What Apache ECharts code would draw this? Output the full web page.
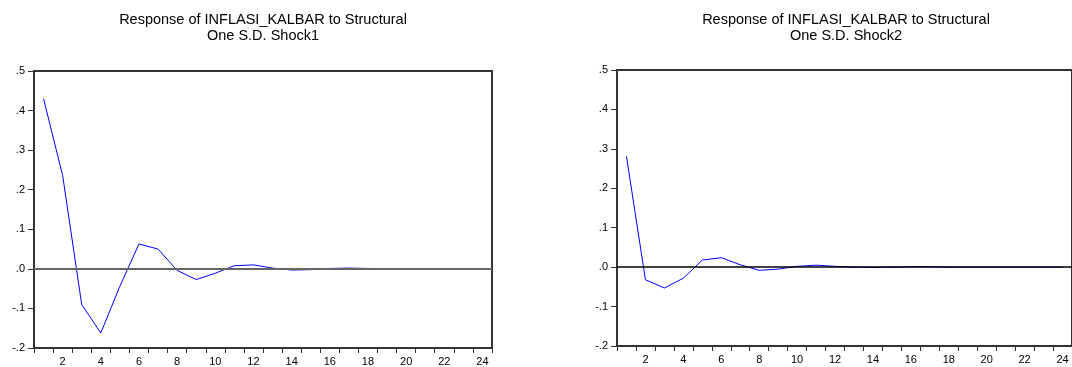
<!DOCTYPE html>
<html>
<head>
<meta charset="utf-8">
<script src="https://cdn.jsdelivr.net/npm/echarts@6/dist/echarts.min.js"></script>
<style>
  html, body { margin: 0; padding: 0; background: #fff; }
  #chart { width: 1072px; height: 367px; }
</style>
</head>
<body>
<div id="chart"></div>
<script>
// periods 1..24
var periods = [];
for (var p = 1; p <= 24; p++) periods.push(String(p));

var titleLine1 = 'Response of INFLASI_KALBAR to Structural';
var titleShock1 = 'One S.D. Shock1';
var titleShock2 = 'One S.D. Shock2';

var shock1 = [0.430, 0.236, -0.090, -0.162, -0.044, 0.063, 0.050, -0.004, -0.027, -0.011,
              0.008, 0.010, 0.002, -0.003, -0.002, 0.001, 0.002, 0.001, 0.000, 0.000,
              0.000, 0.000, 0.000, 0.000];
var shock2 = [0.281, -0.032, -0.053, -0.028, 0.018, 0.024, 0.006, -0.008, -0.005, 0.002,
              0.005, 0.002, 0.000, -0.001, 0.000, 0.001, 0.001, 0.000, 0.000, 0.000,
              0.000, 0.000, 0.000, 0.000];

var font = 'Liberation Sans, Arial, sans-serif';

function fmt(v) {
  var s = Math.abs(v).toFixed(1).replace(/^0/, '');
  return (v < -1e-9 ? '-' : '') + s;
}

function xAxisFor(i) {
  return {
    type: 'category', gridIndex: i, data: periods, boundaryGap: true,
    axisLine: { show: true, onZero: false, lineStyle: { color: '#333', width: 2 } },
    axisTick: { show: true, interval: 0, length: 5, lineStyle: { color: '#333' } },
    axisLabel: {
      interval: function (idx) { return idx % 2 === 1; },
      margin: 8, color: '#000', fontSize: 11, fontFamily: font
    },
    splitLine: { show: false }
  };
}
function yAxisFor(i) {
  return {
    type: 'value', gridIndex: i, min: -0.2, max: 0.5, interval: 0.1,
    axisLine: { show: true, onZero: false, lineStyle: { color: '#333', width: 2 } },
    axisTick: { show: true, length: 6, lineStyle: { color: '#333' } },
    axisLabel: { margin: 9, color: '#000', fontSize: 11, fontFamily: font, formatter: fmt },
    splitLine: { show: false }
  };
}
function lineFor(i, data, zeroColor, zeroWidth) {
  return {
    type: 'line', xAxisIndex: i, yAxisIndex: i, data: data,
    symbol: 'none', animation: false,
    lineStyle: { color: '#0000ff', width: 1 },
    markLine: {
      silent: true, symbol: 'none', label: { show: false },
      lineStyle: { color: zeroColor, width: zeroWidth, type: 'solid' },
      data: [{ yAxis: 0 }]
    }
  };
}

var chart = echarts.init(document.getElementById('chart'));
chart.setOption({
  animation: false,
  backgroundColor: '#fff',
  grid: [
    { left: 34, top: 71, width: 458, height: 277, show: true, borderColor: '#333', borderWidth: 2, backgroundColor: 'transparent' },
    { left: 617, top: 70, width: 458, height: 276, show: true, borderColor: '#333', borderWidth: 2, backgroundColor: 'transparent' }
  ],
  xAxis: [xAxisFor(0), xAxisFor(1)],
  yAxis: [yAxisFor(0), yAxisFor(1)],
  series: [
    lineFor(0, shock1, '#666', 2),
    lineFor(1, shock2, '#000', 1.5)
  ],
  graphic: [
    { type: 'text', x: 263, y: 20, style: { text: titleLine1, font: '14.5px ' + font, fill: '#000', textAlign: 'center', textVerticalAlign: 'middle' } },
    { type: 'text', x: 263, y: 36, style: { text: titleShock1, font: '14.5px ' + font, fill: '#000', textAlign: 'center', textVerticalAlign: 'middle' } },
    { type: 'text', x: 846, y: 20, style: { text: titleLine1, font: '14.5px ' + font, fill: '#000', textAlign: 'center', textVerticalAlign: 'middle' } },
    { type: 'text', x: 846, y: 36, style: { text: titleShock2, font: '14.5px ' + font, fill: '#000', textAlign: 'center', textVerticalAlign: 'middle' } }
  ]
});
</script>
</body>
</html>
